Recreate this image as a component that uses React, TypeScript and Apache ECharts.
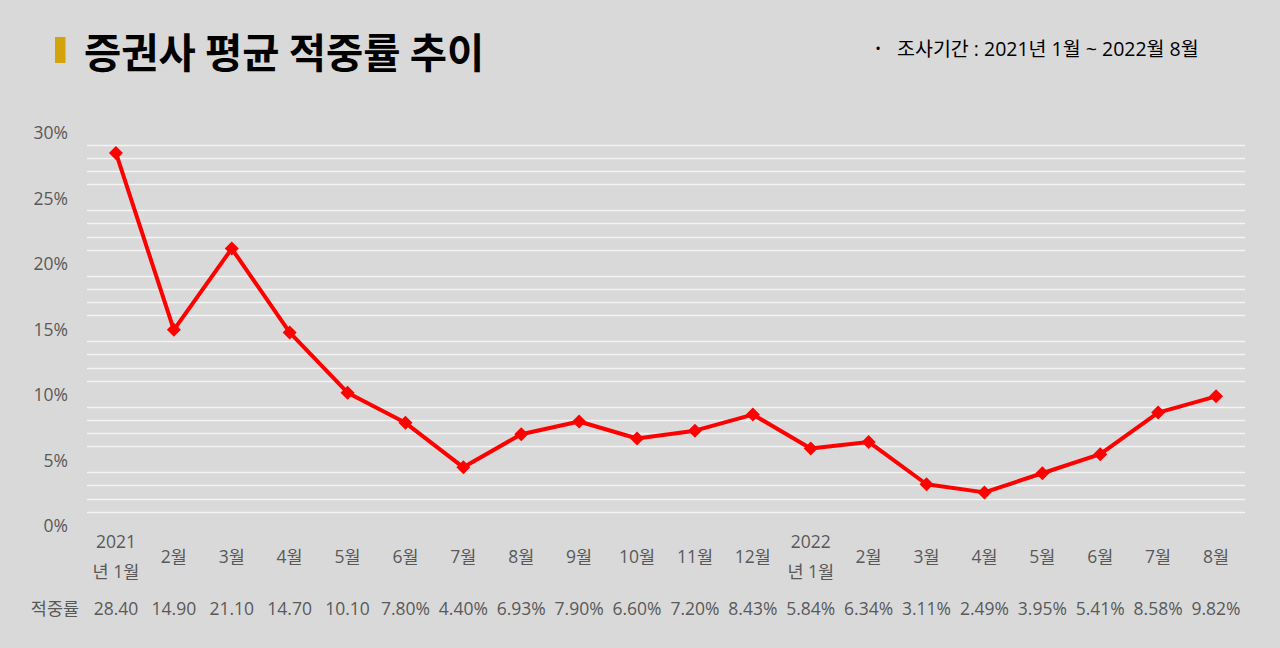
import React, { useEffect, useRef } from "react";
import * as echarts from "echarts";

const categories = [
  "2021\n년 1월", "2월", "3월", "4월", "5월", "6월", "7월", "8월", "9월", "10월", "11월", "12월",
  "2022\n년 1월", "2월", "3월", "4월", "5월", "6월", "7월", "8월",
];
const hitRates = [28.4, 14.9, 21.1, 14.7, 10.1, 7.8, 4.4, 6.93, 7.9, 6.6, 7.2, 8.43, 5.84, 6.34, 3.11, 2.49, 3.95, 5.41, 8.58, 9.82];
const yTicks = { min: 0, max: 30, interval: 5 };
const titleText = "증권사 평균 적중률 추이";
const periodText = "조사기간 : 2021년 1월 ~ 2022월 8월";
const tableHeader = "적중률";

const FONT = '"Open Sans", "Noto Sans CJK KR", sans-serif';
const TITLE_FONT = '"Noto Sans CJK KR", sans-serif';
const GRAY = "#595959";

function tableLabel(v: number): string {
  // values of 10 and above are shown truncated (without %), as in the source table
  return v >= 10 ? v.toFixed(2) : v.toFixed(2) + "%";
}

export default function App() {
  const ref = useRef<HTMLDivElement>(null);
  useEffect(() => {
    if (!ref.current) return;
    const chart = echarts.init(ref.current, null, { renderer: "svg" });
    chart.setOption({
      animation: false,
      backgroundColor: "#d9d9d9",
      textStyle: { fontFamily: FONT },
      grid: { left: 87, right: 35, top: 132, bottom: 123, containLabel: false },
      xAxis: [
        {
          type: "category",
          data: categories,
          boundaryGap: true,
          axisLine: { show: false },
          axisTick: { show: false },
          splitLine: { show: false },
          axisLabel: {
            interval: 0,
            color: GRAY,
            fontSize: 17.5,
            fontFamily: FONT,
            lineHeight: 30,
            verticalAlign: "middle",
            margin: 31,
          },
        },
        {
          type: "category",
          data: hitRates.map(tableLabel),
          position: "bottom",
          boundaryGap: true,
          axisLine: { show: false },
          axisTick: { show: false },
          splitLine: { show: false },
          axisLabel: {
            interval: 0,
            color: GRAY,
            fontSize: 17.5,
            fontFamily: FONT,
            verticalAlign: "middle",
            margin: 83,
          },
        },
      ],
      yAxis: {
        type: "value",
        min: yTicks.min,
        max: yTicks.max,
        interval: yTicks.interval,
        axisLine: { show: false },
        axisTick: { show: false },
        splitLine: { show: false },
        minorTick: { show: false, splitNumber: 5 },
        minorSplitLine: { show: true, lineStyle: { color: "#f4f4f4", width: 1.3 } },
        axisLabel: {
          formatter: "{value}%",
          color: GRAY,
          fontSize: 17.5,
          fontFamily: FONT,
          margin: 19,
        },
      },
      series: [
        {
          type: "line",
          data: hitRates,
          xAxisIndex: 0,
          symbol: "diamond",
          symbolSize: 14,
          lineStyle: { color: "#ff0000", width: 4 },
          itemStyle: { color: "#ff0000" },
          z: 5,
        },
      ],
      graphic: [
        { type: "rect", shape: { x: 55, y: 37, width: 10.5, height: 26 }, style: { fill: "#d4a20a" } },
        {
          type: "text",
          x: 84,
          y: 50,
          style: {
            text: titleText,
            font: `bold 40.5px ${TITLE_FONT}`,
            fill: "#000000",
            verticalAlign: "middle",
            align: "left",
          },
        },
        {
          type: "text",
          x: 878,
          y: 48,
          style: { text: "•", font: `15px ${FONT}`, fill: "#000000", verticalAlign: "middle", align: "center" },
        },
        {
          type: "text",
          x: 897,
          y: 48,
          style: { text: periodText, font: `19.5px ${FONT}`, fill: "#000000", verticalAlign: "middle", align: "left" },
        },
        {
          type: "text",
          x: 55,
          y: 608,
          style: { text: tableHeader, font: `17.5px ${FONT}`, fill: GRAY, verticalAlign: "middle", align: "center" },
        },
      ],
    });
    return () => chart.dispose();
  }, []);
  return (
    <div
      ref={ref}
      style={{ position: "fixed", left: 0, top: 0, width: 1280, height: 648 }}
    />
  );
}
